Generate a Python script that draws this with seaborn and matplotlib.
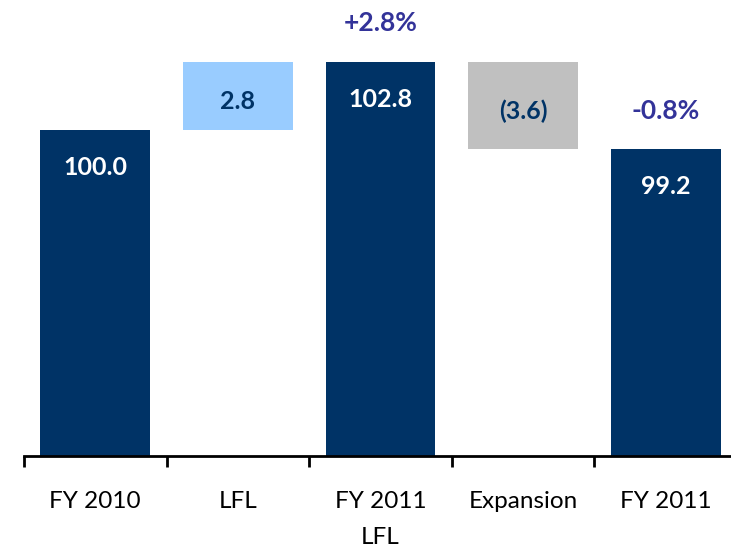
import numpy as np
import pandas as pd
import matplotlib
matplotlib.use("Agg")
import matplotlib.pyplot as plt
import seaborn as sns

# data
categories = ["FY 2010", "LFL", "FY 2011\nLFL", "Expansion", "FY 2011"]
bar_bottoms = [0.0, 100.0, 0.0, 99.2, 0.0]
bar_heights = [100.0, 2.8, 102.8, 3.6, 99.2]
bar_labels = ["100.0", "2.8", "102.8", "(3.6)", "99.2"]
bar_kinds = ["total", "up", "total", "down", "total"]
pct_labels = {"FY 2011\nLFL": "+2.8%", "FY 2011": "-0.8%"}

NAVY = "#003366"
colors = {"total": NAVY, "up": "#99CCFF", "down": "#C0C0C0"}
label_colors = {"total": "white", "up": NAVY, "down": NAVY}
PCT_COLOR = "#333399"

sns.set_style("white")
plt.rcParams["font.family"] = ["Lato", "DejaVu Sans"]

df = pd.DataFrame({"cat": categories, "bottom": bar_bottoms,
                   "height": bar_heights, "label": bar_labels, "kind": bar_kinds})

fig = plt.figure(figsize=(7.31, 5.5), dpi=100)
ax = fig.add_axes([24 / 731, (550 - 456) / 550, 713 / 731, 456 / 550])

# one barplot per bar so each floating bar gets its own bottom
for _, row in df.iterrows():
    sns.barplot(x=[row["cat"]], y=[row["height"]], order=categories,
                color=colors[row["kind"]], bottom=row["bottom"], width=0.77,
                saturation=1, ax=ax, linewidth=0)

ax.set_xlim(-0.5, 4.5)
ax.set_ylim(86.58, 105.35)

# value labels
for i, row in df.iterrows():
    top = row["bottom"] + row["height"]
    if row["kind"] == "total":
        ax.annotate(row["label"], (i, top), xytext=(0, -27), textcoords="offset points",
                    ha="center", va="center", fontsize=18, fontweight="bold",
                    color=label_colors[row["kind"]])
    else:
        mid = row["bottom"] + row["height"] / 2
        ax.annotate(row["label"], (i, mid), xytext=(0, -4), textcoords="offset points",
                    ha="center", va="center", fontsize=18, fontweight="bold",
                    color=label_colors[row["kind"]])

# growth labels above totals
for i, row in df.iterrows():
    if row["cat"] in pct_labels:
        top = row["bottom"] + row["height"]
        ax.annotate(pct_labels[row["cat"]], (i, top), xytext=(0, 28), textcoords="offset points",
                    ha="center", va="center", fontsize=19, fontweight="bold", color=PCT_COLOR)

for s in ["top", "right", "left"]:
    ax.spines[s].set_visible(False)
ax.spines["bottom"].set_color("black")
ax.spines["bottom"].set_linewidth(2)
ax.set_yticks([])
ax.set_xlabel("")
ax.set_ylabel("")

ax.set_xticks(np.arange(-0.5, 5, 1.0), minor=True)
ax.tick_params(axis="x", which="minor", bottom=True, length=8, width=2,
               color="black", direction="out")
ax.tick_params(axis="x", which="major", bottom=False, length=0, pad=25,
               labelsize=17.5, labelcolor="black")
for t in ax.get_xticklabels():
    t.set_linespacing(1.9)

fig.savefig("out.png", dpi=100)
